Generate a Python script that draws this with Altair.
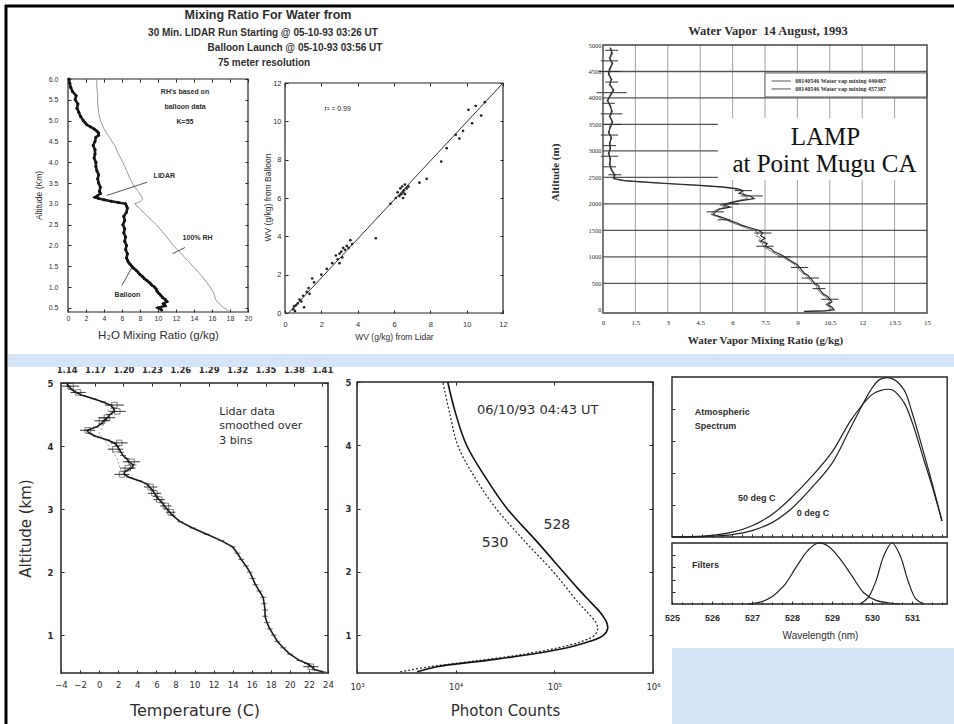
import altair as alt
import pandas as pd

W, H = 954, 724
INK = "#262626"
TXT = "#2e2e2e"
BLUE = "#d5e4f6"
SANS = "Liberation Sans"
SERIF = "Liberation Serif"
ROUND = "DejaVu Sans"

# ---------------- data: panel A (mixing ratio profile) ----------------
mix_alt = [0.45, 0.5, 0.55, 0.6, 0.65, 0.7, 0.75, 0.8, 0.85, 0.9, 0.95, 1.0, 1.05, 1.1, 1.15, 1.2, 1.25, 1.3,
           1.35, 1.4, 1.45, 1.5, 1.55, 1.6, 1.65, 1.7, 1.8, 1.9, 2.0, 2.1, 2.2, 2.3, 2.4, 2.5, 2.6, 2.7, 2.8,
           2.9, 2.95, 3.0, 3.03, 3.06, 3.1, 3.13, 3.16, 3.2, 3.25, 3.3, 3.4, 3.5, 3.6, 3.7, 3.8, 3.9, 4.0,
           4.1, 4.2, 4.3, 4.4, 4.5, 4.6, 4.65, 4.7, 4.75, 4.8, 4.85, 4.9, 4.95, 5.0, 5.1, 5.2, 5.3, 5.4,
           5.5, 5.6, 5.7, 5.8, 5.9, 6.0]
mix_val = [10.4, 10.0, 10.8, 10.6, 11.0, 10.8, 10.5, 10.3, 10.1, 9.9, 9.8, 9.6, 9.3, 9.1, 8.8, 8.5, 8.3, 8.0,
           7.8, 7.6, 7.3, 7.1, 6.9, 6.7, 6.6, 6.5, 6.6, 6.4, 6.5, 6.3, 6.4, 6.2, 6.3, 6.1, 6.3, 6.2, 6.5,
           6.6, 6.5, 6.4, 5.6, 4.8, 4.0, 3.4, 3.0, 3.3, 3.6, 3.5, 3.6, 3.4, 3.3, 3.4, 3.2, 3.1, 3.1,
           2.9, 3.0, 3.0, 2.8, 3.0, 3.1, 3.4, 3.4, 3.2, 2.9, 2.5, 2.1, 1.9, 1.7, 1.4, 1.2, 1.0, 1.1,
           0.8, 0.9, 0.5, 0.3, 0.2, 0.1]
rh_alt = [6.0, 5.8, 5.6, 5.4, 5.2, 5.0, 4.8, 4.6, 4.4, 4.2, 4.0, 3.8, 3.6, 3.4, 3.3, 3.2, 3.12, 3.05, 3.0,
          2.9, 2.75, 2.5, 2.25, 2.0, 1.75, 1.5, 1.25, 1.0, 0.85, 0.7, 0.6, 0.5, 0.4]
rh_val = [3.2, 3.2, 3.3, 3.3, 3.4, 3.6, 4.0, 4.6, 5.2, 5.6, 6.1, 6.5, 6.9, 7.4, 7.8, 8.1, 8.3, 8.0, 7.4,
          7.9, 8.6, 9.8, 10.8, 11.7, 12.8, 13.9, 14.9, 15.8, 16.2, 16.4, 16.8, 17.3, 18.0]
mix_xticks = [0, 2, 4, 6, 8, 10, 12, 14, 16, 18, 20]
mix_yticks = [0.5, 1.0, 1.5, 2.0, 2.5, 3.0, 3.5, 4.0, 4.5, 5.0, 5.5, 6.0]
mix_notes = ["RH's based on", "balloon data", "K=55", "LIDAR", "100% RH", "Balloon"]
mix_title = ["Mixing Ratio For Water from", "30 Min. LIDAR Run Starting @ 05-10-93  03:26 UT",
             "Balloon Launch @ 05-10-93  03:56 UT", "75 meter resolution"]

# ---------------- data: panel B (scatter) ----------------
sc_lidar = [0.45, 0.5, 0.55, 0.6, 0.7, 0.8, 0.9, 1.0, 1.05, 1.2, 1.3, 1.35, 1.5, 1.6, 2.0, 2.3, 2.6, 2.8, 2.9, 3.0,
            3.0, 3.1, 3.15, 3.2, 3.3, 3.4, 3.5, 3.6, 3.7, 5.0, 5.8, 6.1, 6.2, 6.3, 6.35, 6.4, 6.45, 6.5, 6.5, 6.55,
            6.6, 6.6, 6.7, 6.8, 7.4, 7.8, 8.6, 8.9, 9.4, 9.6, 9.8, 10.1, 10.3, 10.5, 10.8, 11.0]
sc_balloon = [0.2, 0.35, 0.1, 0.4, 0.5, 0.7, 0.6, 0.9, 0.3, 1.1, 1.3, 1.0, 1.8, 1.6, 2.0, 2.3, 2.6, 3.0, 2.8, 2.6,
              3.1, 3.2, 2.9, 3.4, 3.3, 3.5, 3.4, 3.8, 3.6, 3.9, 5.7, 6.0, 6.3, 6.1, 6.5, 6.2, 6.6, 6.3, 6.0, 6.4,
              6.2, 6.7, 6.5, 6.6, 6.8, 7.0, 7.9, 8.6, 9.3, 9.1, 9.5, 10.6, 9.9, 10.8, 10.3, 11.0]
sc_fit = [0.2, 0.0, 12.0, 12.0]
sc_ticks = [0, 2, 4, 6, 8, 10, 12]

# ---------------- data: panel C (water vapor, LAMP) ----------------
wv_alt = [4950, 4850, 4750, 4650, 4550, 4450, 4350, 4250, 4150, 4050, 3950, 3850, 3750, 3650, 3550, 3450,
          3350, 3250, 3150, 3050, 2950, 2850, 2750, 2650, 2550,
          2480, 2440, 2410, 2380, 2350, 2320, 2290, 2250, 2200, 2150, 2100, 2060, 2020, 1980, 1940, 1900,
          1850, 1800, 1760, 1720, 1680, 1640, 1600,
          1550, 1500, 1450, 1400, 1350, 1300, 1250, 1200, 1150, 1100, 1050, 1000, 950, 900, 850, 800, 750,
          700, 650, 600, 550, 500, 450, 400, 350, 300, 250, 200, 150, 100, 50, 0, -20, -30]
wv_a = [0.35, 0.4, 0.3, 0.45, 0.3, 0.25, 0.4, 0.3, 0.5, 0.35, 0.2, 0.35, 0.4, 0.3, 0.45, 0.35, 0.25, 0.4, 0.3,
        0.35, 0.25, 0.35, 0.3, 0.4, 0.55,
        0.5, 1.0, 2.0, 3.2, 4.5, 5.5, 6.2, 6.5, 6.3, 6.8, 7.0, 6.4, 5.9, 5.6, 5.9, 5.4, 5.2, 5.1, 5.4, 5.7,
        5.9, 6.2, 6.4,
        6.8, 7.2, 7.4, 7.3, 7.5, 7.3, 7.6, 7.5, 7.8, 7.9, 8.2, 8.4, 8.6, 8.8, 9.0, 9.1, 9.2, 9.3, 9.5, 9.6,
        9.7, 9.8, 10.0, 10.0, 10.1, 10.2, 10.4, 10.5, 10.6, 10.4, 10.6, 10.7, 10.3, 9.3]
wv_b = [0.3, 0.45, 0.35, 0.4, 0.35, 0.3, 0.35, 0.35, 0.45, 0.3, 0.25, 0.3, 0.45, 0.35, 0.4, 0.3, 0.3, 0.35,
        0.35, 0.3, 0.3, 0.3, 0.35, 0.35, 0.5,
        0.45, 0.9, 1.8, 3.0, 4.3, 5.4, 6.0, 6.4, 6.5, 6.6, 6.7, 6.2, 5.8, 5.4, 5.7, 5.3, 5.1, 5.0, 5.3, 5.5,
        5.8, 6.0, 6.3,
        6.6, 7.0, 7.2, 7.1, 7.3, 7.2, 7.4, 7.4, 7.6, 7.8, 8.0, 8.3, 8.5, 8.7, 8.9, 9.0, 9.1, 9.2, 9.4, 9.5,
        9.6, 9.7, 9.9, 9.9, 10.0, 10.1, 10.3, 10.4, 10.5, 10.3, 10.5, 10.6, 10.2, 9.4]
wv_err_alt = [4900, 4700, 4500, 4300, 4100, 3900, 3700, 3500, 3300, 3100, 2900, 2700, 2550, 2250, 2150, 2000,
              1850, 1700, 1450, 1200, 1000, 800, 600, 400, 200]
wv_err_mid = [0.4, 0.3, 0.3, 0.4, 0.4, 0.25, 0.4, 0.45, 0.3, 0.3, 0.3, 0.3, 0.55, 6.5, 6.9, 5.9, 5.2, 5.6, 7.4,
              7.5, 8.4, 9.1, 9.6, 10.0, 10.5]
wv_err_half = [0.3, 0.4, 0.5, 0.3, 0.7, 0.3, 0.5, 0.4, 0.4, 0.3, 0.4, 0.3, 0.3, 0.4, 0.5, 0.4, 0.4, 0.3, 0.4,
               0.4, 0.3, 0.4, 0.4, 0.3, 0.4]
wv_xticks = [0, 1.5, 3, 4.5, 6, 7.5, 9, 10.5, 12, 13.5, 15]
wv_yticks = [0, 500, 1000, 1500, 2000, 2500, 3000, 3500, 4000, 4500, 5000]
wv_legend = ["08140546 Water vap mixing 440487", "08140546 Water vap mixing 457387"]
wv_title = "Water Vapor\u00a0\u00a014 August, 1993"
lamp_text = ["LAMP", "at Point Mugu CA"]

# ---------------- data: panel D (temperature) ----------------
t_alt = [0.42, 0.45, 0.5, 0.55, 0.6, 0.7, 0.8, 0.9, 1.0, 1.1, 1.2, 1.3, 1.4, 1.5, 1.6, 1.7, 1.8, 1.9, 2.0, 2.1,
         2.2, 2.3, 2.4, 2.5, 2.6, 2.7, 2.8, 2.9, 3.0, 3.1, 3.2, 3.3, 3.4, 3.45, 3.5, 3.55, 3.6, 3.65, 3.7, 3.75,
         3.8, 3.85, 3.9, 4.0, 4.05, 4.1, 4.15, 4.2, 4.25, 4.3, 4.35, 4.4, 4.45, 4.5, 4.55, 4.6, 4.65, 4.7, 4.75,
         4.8, 4.85, 4.9, 4.95, 5.0]
t_val = [23.5, 22.6, 22.3, 21.8, 21.0, 20.0, 19.3, 18.7, 18.3, 17.9, 17.6, 17.4, 17.4, 17.3, 17.2, 16.8, 16.4,
         16.1, 15.8, 15.4, 14.9, 14.5, 14.0, 12.8, 11.3, 9.8, 8.5, 7.7, 7.1, 6.6, 6.0, 5.6, 5.0, 4.2, 3.2, 2.6,
         2.7, 3.4, 3.6, 3.1, 2.9, 2.5, 2.3, 1.9, 1.6, 0.8, -0.3, -1.0, -1.3, -0.3, 0.2, 0.5, 0.9, 1.1, 1.6, 1.5,
         1.2, 0.4, -0.6, -1.7, -2.4, -2.9, -3.2, -3.4]
t_box_alt = [0.5, 4.95, 4.85, 4.65, 4.55, 4.45, 4.4, 4.25, 4.05, 3.95, 3.75, 3.65, 3.55, 3.35, 3.25, 3.15, 3.05,
             2.95]
t_box_val = [22.2, -3.0, -2.2, 1.6, 1.9, 0.8, 0.3, -1.2, 2.1, 1.7, 3.4, 3.0, 2.4, 5.4, 5.8, 6.3, 7.0, 7.5]
t_box_half = [0.8, 0.9, 0.8, 1.0, 0.9, 0.9, 0.8, 0.8, 0.9, 0.8, 0.9, 0.8, 0.8, 0.7, 0.7, 0.6, 0.6, 0.5]
t_ball_alt = [3.6, 3.8, 4.0, 4.2, 4.4, 4.6]
t_ball_val = [2.3, 1.9, 1.0, 0.0, 0.6, 1.0]
t_xticks = [-4, -2, 0, 2, 4, 6, 8, 10, 12, 14, 16, 18, 20, 22, 24]
t_yticks = [1, 2, 3, 4, 5]
t_top_ticks = [1.14, 1.17, 1.20, 1.23, 1.26, 1.29, 1.32, 1.35, 1.38, 1.41]
t_notes = ["Lidar data", "smoothed over", "3 bins"]

# ---------------- data: panel E (photon counts) ----------------
ph_alt = [0.42, 0.5, 0.6, 0.7, 0.8, 0.9, 1.0, 1.1, 1.2, 1.35, 1.5, 1.75, 2.0, 2.5, 3.0, 3.5, 4.0, 4.5, 5.0]
ph_528 = [4070, 6460, 20900, 60300, 135000, 229000, 316000, 347000, 339000, 295000, 240000, 170000, 123000,
          64600, 33100, 19900, 12900, 10000, 8300]
ph_530 = [2750, 5500, 17800, 50100, 110000, 191000, 257000, 275000, 263000, 219000, 178000, 132000, 97700,
          49000, 25700, 15500, 10500, 8710, 7410]
ph_xticks = [1000, 10000, 100000, 1000000]
ph_notes = ["06/10/93 04:43 UT", "528", "530"]

# ---------------- data: panel F (spectrum and filters) ----------------
sp_wl = [525.0, 525.5, 526.0, 526.5, 527.0, 527.5, 528.0, 528.5, 529.0, 529.5, 530.0, 530.2, 530.5, 530.8,
         531.0, 531.3, 531.5, 531.75]
sp_50 = [0.0, 0.002, 0.01, 0.03, 0.07, 0.14, 0.25, 0.38, 0.53, 0.74, 0.89, 0.915, 0.92, 0.84, 0.72, 0.48,
         0.32, 0.1]
sp_0 = [0.0, 0.0, 0.005, 0.015, 0.04, 0.09, 0.18, 0.31, 0.46, 0.70, 0.93, 0.985, 0.99, 0.92, 0.78, 0.52,
        0.34, 0.1]
f1_wl = [526.9, 527.2, 527.5, 527.8, 528.1, 528.4, 528.65, 528.9, 529.2, 529.5, 529.8, 530.1, 530.4, 530.7]
f1_val = [0.0, 0.03, 0.12, 0.3, 0.6, 0.88, 1.0, 0.95, 0.74, 0.46, 0.18, 0.06, 0.02, 0.0]
f2_wl = [529.7, 529.9, 530.1, 530.3, 530.5, 530.7, 530.9, 531.1, 531.3]
f2_val = [0.0, 0.1, 0.38, 0.8, 1.0, 0.8, 0.38, 0.08, 0.0]
sp_xticks = [525, 526, 527, 528, 529, 530, 531]
sp_minor = [525.25, 525.5, 525.75, 526, 526.25, 526.5, 526.75, 527, 527.25, 527.5, 527.75, 528, 528.25, 528.5,
            528.75, 529, 529.25, 529.5, 529.75, 530, 530.25, 530.5, 530.75, 531, 531.25, 531.5, 531.75]
sp_yticks = [0.2, 0.4, 0.6, 0.8]
f_yticks = [0.2, 0.4, 0.6, 0.8]
sp_notes = ["Atmospheric", "Spectrum", "50 deg C", "0 deg C", "Filters"]


# ---------------- helpers ----------------
def sc(domain, rng, kind="linear"):
    if kind == "log":
        return alt.Scale(type="log", domain=domain, range=rng, nice=False)
    return alt.Scale(type=kind, domain=domain, range=rng, nice=False, zero=False)


def axis(orient, offset, values, font="Liberation Sans", size=8, gap=3, tick=3, fmt=None, expr=None,
         weight="normal", title=None, tfont=None, tsize=11, tweight="normal", tx=None, ty=None, labels=True):
    # ticks point inward (into the plot) like the scanned originals
    kw = dict(orient=orient, offset=offset, values=values, grid=False, domain=False,
              ticks=True, tickSize={"expr": str(-tick)}, tickColor=INK, tickWidth=1,
              labels=labels, labelFont=font, labelFontSize=size, labelFontWeight=weight, labelColor=TXT,
              labelPadding=gap + tick, labelFlush=False, labelOverlap=False)
    if fmt:
        kw["format"] = fmt
    if expr:
        kw["labelExpr"] = expr
    if title is None:
        kw["title"] = None
    else:
        kw.update(title=title, titleFont=tfont or font, titleFontSize=tsize, titleFontWeight=tweight,
                  titleColor=TXT, titleBaseline="middle")
        if tx is not None:
            kw["titleX"] = tx
        if ty is not None:
            kw["titleY"] = ty
    return alt.Axis(**kw)


def XY(xs, ys, xa=None, ya=None):
    return dict(x=alt.X("x:Q", scale=xs, axis=xa), y=alt.Y("y:Q", scale=ys, axis=ya))


def frame(x0, x1, y0, y1, xs, ys, xa=None, ya=None, width=1.2, color=INK):
    df = pd.DataFrame({"x": [x0], "x2": [x1], "y": [y0], "y2": [y1]})
    return alt.Chart(df).mark_rect(fillOpacity=0, stroke=color, strokeWidth=width).encode(
        **XY(xs, ys, xa, ya), x2="x2:Q", y2="y2:Q")


def guide(x0, y0, xs, ys, xa=None, ya=None):
    # invisible anchor carrying an extra (mirror) axis pair on the panel's scales
    df = pd.DataFrame({"x": [x0], "y": [y0]})
    return alt.Chart(df).mark_point(opacity=0).encode(**XY(xs, ys, xa, ya))


def box(x0, x1, y0, y1, xs, ys, **mk):
    df = pd.DataFrame({"x": [x0], "x2": [x1], "y": [y0], "y2": [y1]})
    return alt.Chart(df).mark_rect(**mk).encode(**XY(xs, ys), x2="x2:Q", y2="y2:Q")


def line(xv, yv, xs, ys, **mk):
    df = pd.DataFrame({"x": xv, "y": yv, "i": list(range(len(xv)))})
    return alt.Chart(df).mark_line(**mk).encode(**XY(xs, ys), order="i:Q")


def segs(x1, y1, x2, y2, xs, ys, **mk):
    df = pd.DataFrame({"x": x1, "y": y1, "x2": x2, "y2": y2})
    return alt.Chart(df).mark_rule(**mk).encode(**XY(xs, ys), x2="x2:Q", y2="y2:Q")


def texts(xv, yv, tv, xs, ys, **mk):
    df = pd.DataFrame({"x": xv, "y": yv, "t": tv})
    return alt.Chart(df).mark_text(**mk).encode(**XY(xs, ys), text="t:N")


def ptext(t, x, y, **mk):
    return alt.Chart(pd.DataFrame({"t": [t]})).mark_text(**mk).encode(
        x=alt.value(x), y=alt.value(y), text="t:N")


# ---------------- panel A ----------------
A_xs = sc([0, 20], [68, 248])
A_ys = sc([0.4, 6.0], [312, 79])
A_xa = axis("bottom", 312 - H, mix_xticks, SANS, 7, gap=2, tick=3, title="H₂O Mixing Ratio (g/kg)",
            tsize=11.5, ty=23)
A_ya = axis("left", -68, mix_yticks, SANS, 7, gap=10, tick=3, fmt=".1f", title="Altitude (Km)",
            tsize=8.5, tx=-30, ty=195)
frameA = frame(0, 20, 0.4, 6.0, A_xs, A_ys, A_xa, A_ya)
mirrorA = guide(0, 0.4, A_xs, A_ys, axis("top", -79, mix_xticks, tick=3, labels=False),
                axis("right", 248 - W, mix_yticks, tick=3, labels=False))
panelA = alt.layer(
    line(rh_val, rh_alt, A_xs, A_ys, color="#9a9a9a", strokeWidth=1),
    line(mix_val, mix_alt, A_xs, A_ys, color="#1e1e1e", strokeWidth=2.6),
    alt.Chart(pd.DataFrame({"x": mix_val, "y": mix_alt})).mark_circle(size=9, color="#111", opacity=1).encode(
        **XY(A_xs, A_ys)),
    segs([8.8, 13.0, 6.0], [3.52, 1.95, 1.04], [4.3, 11.6, 7.1], [3.2, 1.8, 1.47], A_xs, A_ys,
         color="#444", strokeWidth=0.9),
    texts([13.0, 13.0, 13.0, 10.7, 14.4, 6.6], [5.69, 5.33, 4.96, 3.66, 2.19, 0.80], mix_notes, A_xs, A_ys,
          font=SANS, fontSize=7, fontWeight="bold", color=TXT, align="center", baseline="middle"),
)

# ---------------- panel B ----------------
B_xs = sc([0, 12], [285, 503])
B_ys = sc([0, 12], [313, 83])
B_xa = axis("bottom", 313 - H, sc_ticks, SANS, 7.5, gap=7, tick=3, title="WV (g/kg) from Lidar", tsize=8.5,
            ty=23)
B_ya = axis("left", -285, sc_ticks, SANS, 7.5, gap=4, tick=3, title="WV (g/kg) from Balloon", tsize=8.5,
            tx=-18, ty=197)
frameB = frame(0, 12, 0, 12, B_xs, B_ys, B_xa, B_ya)
mirrorB = guide(0, 0, B_xs, B_ys, axis("top", -83, sc_ticks, tick=3, labels=False),
                axis("right", 503 - W, sc_ticks, tick=3, labels=False))
panelB = alt.layer(
    segs([sc_fit[0]], [sc_fit[1]], [sc_fit[2]], [sc_fit[3]], B_xs, B_ys, color="#333", strokeWidth=1),
    alt.Chart(pd.DataFrame({"x": sc_lidar, "y": sc_balloon})).mark_circle(size=7, color="#222", opacity=1).encode(
        **XY(B_xs, B_ys)),
    texts([2.9], [10.64], ["r² = 0.99"], B_xs, B_ys, font=SANS, fontSize=7, color="#222", align="center",
          baseline="middle"),
)

# ---------------- panel C ----------------
C_xs = sc([0, 15], [603, 927])
C_ys = sc([-60, 5000], [313, 45])
C_xa = axis("bottom", 313 - H, wv_xticks, SERIF, 7, gap=5, tick=0, fmt=".1~f",
            title="Water Vapor Mixing Ratio (g/kg)", tfont=SERIF, tsize=11, tweight="bold", ty=27)
C_ya = axis("left", -603, wv_yticks, SERIF, 6.5, gap=2, tick=0, fmt="d", title="Altitude (m)", tfont=SERIF,
            tsize=11, tweight="bold", tx=-48, ty=172)
vgrid = [v for v in wv_xticks[1:-1]]
hgrid = [v for v in wv_yticks[1:-1]]
frameC = frame(0, 15, -60, 5000, C_xs, C_ys, C_xa, C_ya, width=1.4, color="#444")
panelC = alt.layer(
    segs(vgrid, [-60] * len(vgrid), vgrid, [5000] * len(vgrid), C_xs, C_ys, color="#8a8a8a", strokeWidth=0.8),
    segs([0] * len(hgrid), hgrid, [15] * len(hgrid), hgrid, C_xs, C_ys, color="#555", strokeWidth=1.3),
    line(wv_b, wv_alt, C_xs, C_ys, color="#777", strokeWidth=1),
    line(wv_a, wv_alt, C_xs, C_ys, color="#2a2a2a", strokeWidth=1.2),
    segs([m - h for m, h in zip(wv_err_mid, wv_err_half)], wv_err_alt,
         [m + h for m, h in zip(wv_err_mid, wv_err_half)], wv_err_alt, C_xs, C_ys, color="#333", strokeWidth=1),
    box(7.5, 15, 4019, 4472, C_xs, C_ys, fill="white", stroke="#666", strokeWidth=1),
    segs([7.8, 7.8], [4320, 4170], [8.7, 8.7], [4320, 4170], C_xs, C_ys, color="#555", strokeWidth=1),
    texts([8.9, 8.9], [4320, 4170], wv_legend, C_xs, C_ys, font=SERIF, fontSize=6, fontWeight="bold",
          color="#333", align="left", baseline="middle"),
    box(5.32, 16.3, 2451, 3622, C_xs, C_ys, fill="white", strokeWidth=0),
    texts([10.3, 10.25], [3263, 2750], lamp_text, C_xs, C_ys, font=SERIF, fontSize=25, color="#111",
          align="center", baseline="middle"),
)

# ---------------- panel D ----------------
D_xs = sc([-4, 24], [61, 328])
D_ys = sc([0.4, 5.0], [673, 383])
D_xa = axis("bottom", 673 - H, t_xticks, ROUND, 8.5, gap=7, tick=3, title="Temperature (C)", tsize=16, ty=37)
D_ya = axis("left", -61, t_yticks, ROUND, 8.5, gap=8, tick=3, weight="bold", title="Altitude (km)", tsize=15,
            tx=-36, ty=528)
frameD = frame(-4, 24, 0.4, 5.0, D_xs, D_ys, D_xa, D_ya, width=1.5)
mirrorD = guide(-4, 0.4, D_xs, D_ys, None, axis("right", 328 - W, t_yticks, tick=4, labels=False))
panelD = alt.layer(
    line(t_ball_val, t_ball_alt, D_xs, D_ys, color="#999", strokeWidth=1, strokeDash=[2, 2]),
    line(t_val, t_alt, D_xs, D_ys, color="#1a1a1a", strokeWidth=1.6),
    alt.Chart(pd.DataFrame({"x": t_val, "y": t_alt})).mark_point(
        shape="stroke", size=36, color="#222", strokeWidth=0.9).encode(**XY(D_xs, D_ys)),
    segs([v - h for v, h in zip(t_box_val, t_box_half)], t_box_alt,
         [v + h for v, h in zip(t_box_val, t_box_half)], t_box_alt, D_xs, D_ys, color="#222", strokeWidth=0.9),
    alt.Chart(pd.DataFrame({"x": t_box_val, "y": t_box_alt})).mark_point(
        shape="square", filled=False, size=30, color="#222", strokeWidth=0.8).encode(**XY(D_xs, D_ys)),
    texts([12.6, 12.6, 12.6], [4.54, 4.32, 4.08], t_notes, D_xs, D_ys, font=ROUND, fontSize=11, color=TXT,
          align="left", baseline="middle"),
)
Dtop_xs = sc([1.134, 1.416], [61, 328])
Dtop_xa = axis("top", -383, t_top_ticks, ROUND, 8.5, gap=9, tick=3, fmt=".2f", weight="bold")
panelDtop = alt.Chart(pd.DataFrame({"x": t_top_ticks})).mark_point(opacity=0).encode(
    x=alt.X("x:Q", scale=Dtop_xs, axis=Dtop_xa), y=alt.value(383))

# ---------------- panel E ----------------
E_xs = sc([1000, 1000000], [357, 653], "log")
E_ys = sc([0.4, 5.0], [673, 382])
E_expr = ("datum.value == 1000 ? '10³' : datum.value == 10000 ? '10⁴' : "
          "datum.value == 100000 ? '10⁵' : '10⁶'")
E_xa = axis("bottom", 673 - H, ph_xticks, ROUND, 8.5, gap=9, tick=3, expr=E_expr, title="Photon Counts",
            tsize=15, ty=37)
E_ya = axis("left", -357, t_yticks, ROUND, 8.5, gap=6, tick=3, weight="bold")
frameE = frame(1000, 1000000, 0.4, 5.0, E_xs, E_ys, E_xa, E_ya, width=1.5)
mirrorE = guide(1000, 0.4, E_xs, E_ys, axis("top", -382, ph_xticks, tick=3, labels=False),
                axis("right", 653 - W, t_yticks, tick=4, labels=False))
panelE = alt.layer(
    line(ph_530, ph_alt, E_xs, E_ys, color="#222", strokeWidth=1.2, strokeDash=[2, 2],
         interpolate="catmull-rom"),
    line(ph_528, ph_alt, E_xs, E_ys, color="#111", strokeWidth=1.6, interpolate="catmull-rom"),
    texts([16440], [4.557], [ph_notes[0]], E_xs, E_ys, font=ROUND, fontSize=13, color=TXT, align="left",
          baseline="middle"),
    texts([106000, 25060], [2.74, 2.455], ph_notes[1:], E_xs, E_ys, font=ROUND, fontSize=14, color=TXT,
          align="center", baseline="middle"),
)

# ---------------- panel F ----------------
F_xs = sc([525, 532], [672, 952])
F1_ys = sc([0, 1.0], [537, 377])
F2_ys = sc([0, 1.0], [604, 543])
F_xa = axis("bottom", 604 - H, sp_xticks, SANS, 9, gap=9, tick=3, weight="bold", title="Wavelength (nm)",
            tsize=10, tx=820, ty=31)
frameF1 = frame(525, 531.88, 0, 1.0, F_xs, F1_ys, axis("bottom", 537 - H, sp_minor, tick=3, labels=False),
                axis("left", -672, sp_yticks, tick=3, labels=False), width=1.4)
panelF1 = alt.layer(
    line(sp_wl, sp_50, F_xs, F1_ys, color="#222", strokeWidth=1.2, interpolate="catmull-rom"),
    line(sp_wl, sp_0, F_xs, F1_ys, color="#222", strokeWidth=1.2, interpolate="catmull-rom"),
    texts([525.57, 525.57, 526.65, 528.12], [0.781, 0.694, 0.244, 0.15], sp_notes[:4], F_xs, F1_ys, font=SANS,
          fontSize=9, fontWeight="bold", color=TXT, align="left", baseline="middle"),
)
frameF2 = frame(525, 531.88, 0, 1.0, F_xs, F2_ys, F_xa, axis("left", -672, f_yticks, tick=3, labels=False),
                width=1.4)
mirrorF2 = guide(525, 0, F_xs, F2_ys, axis("bottom", 604 - H, sp_minor, tick=2, labels=False), None)
panelF2 = alt.layer(
    line(f1_wl, f1_val, F_xs, F2_ys, color="#222", strokeWidth=1.2, interpolate="catmull-rom"),
    line(f2_wl, f2_val, F_xs, F2_ys, color="#222", strokeWidth=1.2, interpolate="catmull-rom"),
    texts([525.5], [0.64], [sp_notes[4]], F_xs, F2_ys, font=SANS, fontSize=9, fontWeight="bold", color=TXT,
          align="left", baseline="middle"),
)

# ---------------- decoration and titles ----------------
one = pd.DataFrame({"a": [0]})
deco = alt.layer(
    alt.Chart(one).mark_rect(color=BLUE).encode(x=alt.value(8), x2=alt.value(954), y=alt.value(354),
                                               y2=alt.value(367)),
    alt.Chart(one).mark_rect(color=BLUE).encode(x=alt.value(672), x2=alt.value(954), y=alt.value(648),
                                               y2=alt.value(724)),
)
border = alt.layer(
    alt.Chart(one).mark_rule(color="black", strokeWidth=3).encode(x=alt.value(5), x2=alt.value(954),
                                                                  y=alt.value(6)),
    alt.Chart(one).mark_rule(color="black", strokeWidth=3).encode(x=alt.value(6), y=alt.value(5),
                                                                  y2=alt.value(724)),
)
titles = alt.layer(
    ptext(mix_title[0], 268, 15, font=SANS, fontSize=12.5, fontWeight="bold", color=TXT),
    ptext(mix_title[1], 263, 33, font=SANS, fontSize=10, fontWeight="bold", color=TXT),
    ptext(mix_title[2], 295, 48, font=SANS, fontSize=10, fontWeight="bold", color=TXT),
    ptext(mix_title[3], 264, 63, font=SANS, fontSize=10, fontWeight="bold", color=TXT),
    ptext(wv_title, 768, 31, font=SERIF, fontSize=12.5, fontWeight="bold", color=TXT),
)

chart = alt.layer(
    deco, frameA, mirrorA, panelA, frameB, mirrorB, panelB, panelC, frameC, frameD, mirrorD, panelD, panelDtop,
    frameE, mirrorE, panelE, frameF1, panelF1, frameF2, mirrorF2, panelF2, titles, border
).resolve_scale(x="independent", y="independent").resolve_axis(
    x="independent", y="independent"
).properties(
    width=W, height=H, autosize=alt.AutoSizeParams(type="none"), padding=0, background="white"
).configure_view(stroke=None)

chart.save("out.html", embed_options={"renderer": "svg", "actions": False})
